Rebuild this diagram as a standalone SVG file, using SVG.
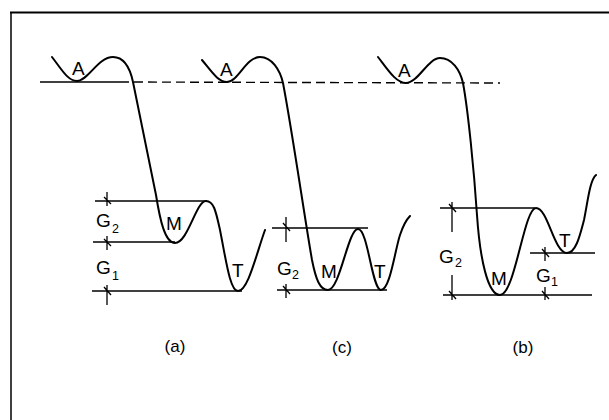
<svg xmlns="http://www.w3.org/2000/svg" width="609" height="420" viewBox="0 0 609 420">
<style>
.c{fill:none;stroke:#000;stroke-width:2;stroke-linecap:round;stroke-linejoin:round}
.l{fill:none;stroke:#000;stroke-width:1.4}
.t{fill:none;stroke:#000;stroke-width:1.3}
.tx{font-family:"Liberation Sans",Arial,sans-serif;font-size:19px;fill:#000}
.sb{font-family:"Liberation Sans",Arial,sans-serif;font-size:12.5px;fill:#000}
.cap{font-family:"Liberation Sans",Arial,sans-serif;font-size:17px;fill:#000;text-anchor:middle}
</style>
<rect width="609" height="420" fill="#fff"/>
<g id="frame">
<line x1="10" y1="12.5" x2="609" y2="12.5" stroke="#000" stroke-width="2"/>
<line x1="11" y1="12" x2="11" y2="420" stroke="#000" stroke-width="1.5"/>
</g>
<g id="connectors">
<line class="l" x1="40" y1="82" x2="120" y2="82"/>
<line class="l" x1="120" y1="82" x2="500" y2="83" stroke-dasharray="9 5"/>
<line class="l" x1="95" y1="201" x2="207" y2="201"/>
<line class="l" x1="93" y1="242" x2="175" y2="242"/>
<line class="l" x1="92" y1="291" x2="242" y2="291"/>
<path class="t" d="M107,192 V206 M104,197 L111,204 M107,236 V250 M104,239 L111,246 M107,285 V305 M104,287 L111,295"/>
<line class="l" x1="272" y1="228" x2="368" y2="228"/>
<line class="l" x1="277" y1="290" x2="387" y2="290"/>
<path class="t" d="M286,217 V242 M283,223 L290,231 M286,284 V298 M283,286 L290,294"/>
<line class="l" x1="440" y1="208" x2="535" y2="208"/>
<line class="l" x1="443" y1="295" x2="592" y2="295"/>
<line class="l" x1="530" y1="253" x2="595" y2="253"/>
<path class="t" d="M452,202 V232 M449,204 L456,212 M452,275 V300 M449,291 L456,299 M545,247 V261 M542,249 L549,257 M545,287 V300 M542,291 L549,299"/>
</g>
<g id="curve-a">
<path class="c" d="M52,57 C62,70 68,81 77,81 C88,81 98,57 113,57 C124,57 130,68 133,82 L156,195 C160,220 165,243 175,243 C188,243 196,201 206,201 C214,201 216,212 220,230 C226,260 230,291 238,291 C248,291 256,255 265,230"/>
<text class="tx" x="72" y="75">A</text>
<text class="tx" x="166" y="230">M</text>
<text class="tx" x="232" y="277">T</text>
<text class="tx" x="96" y="227">G</text><text class="sb" x="112" y="233">2</text>
<text class="tx" x="96" y="274">G</text><text class="sb" x="112" y="280">1</text>
<text class="cap" x="175" y="352">(a)</text>
</g>
<g id="curve-c">
<path class="c" d="M202,60 C212,72 218,82 227,82 C238,82 246,57 260,57 C272,57 280,70 283,83 C292,130 305,220 312,260 C316,280 320,290 328,290 C340,290 348,229 358,229 C368,229 372,290 381,290 C390,290 395,250 400,235 C403,226 406,220 410,216"/>
<text class="tx" x="220" y="76">A</text>
<text class="tx" x="321" y="278">M</text>
<text class="tx" x="374" y="278">T</text>
<text class="tx" x="277" y="275">G</text><text class="sb" x="292" y="279">2</text>
<text class="cap" x="342" y="353">(c)</text>
</g>
<g id="curve-b">
<path class="c" d="M378,57 C388,70 396,83 406,83 C418,83 428,58 440,58 C452,58 460,70 463,83 C468,110 474,170 477,215 C480,260 488,295 500,295 C515,295 524,208 536,208 C548,208 554,253 567,253 C576,253 580,235 584,220 C588,200 590,180 596,175"/>
<text class="tx" x="398" y="77">A</text>
<text class="tx" x="491" y="285">M</text>
<text class="tx" x="559" y="247">T</text>
<text class="tx" x="439" y="263">G</text><text class="sb" x="455" y="267">2</text>
<text class="tx" x="536" y="282">G</text><text class="sb" x="551" y="286">1</text>
<text class="cap" x="523" y="353">(b)</text>
</g>
</svg>
